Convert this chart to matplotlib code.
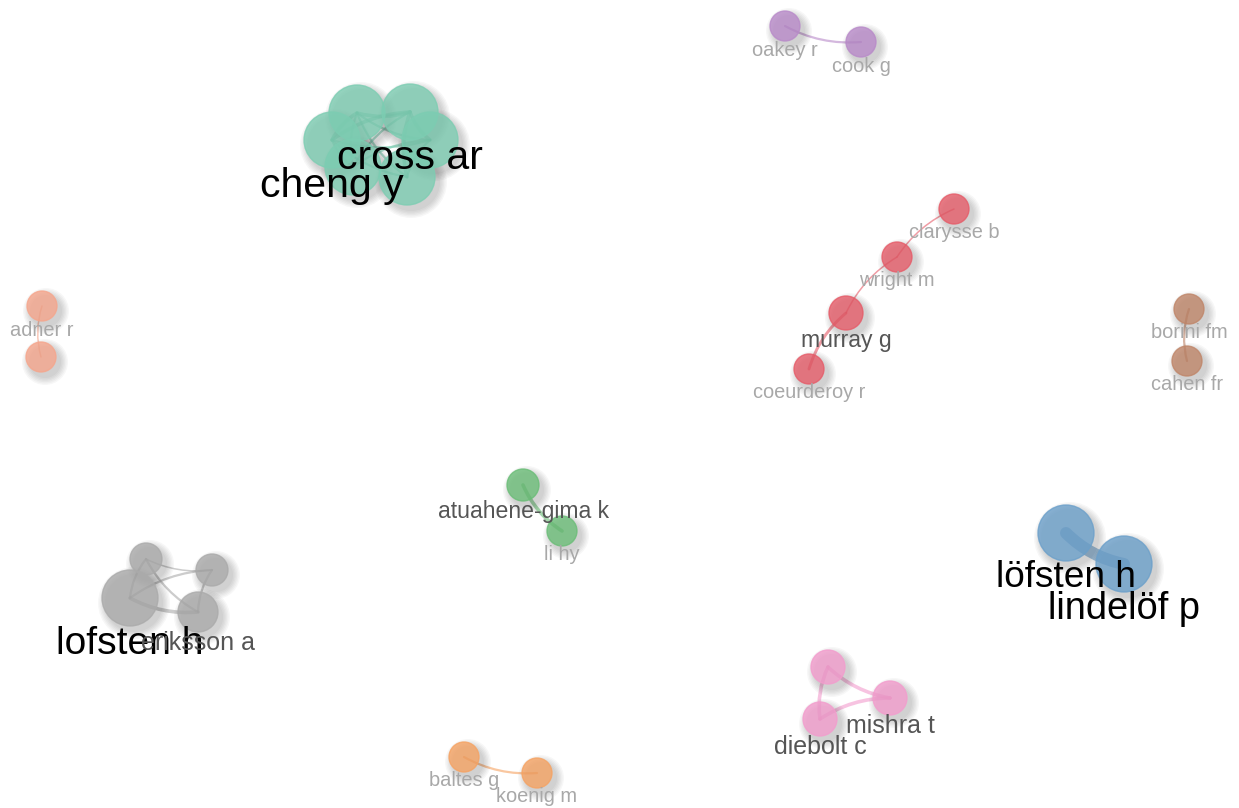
import matplotlib.pyplot as plt
from matplotlib.patches import Circle, FancyArrowPatch

# nodes of the collaboration network (layout position in px, node radius)
labels = ["", "cross ar", "cheng y", "", "", "",
          "oakey r", "cook g",
          "clarysse b", "wright m", "murray g", "coeurderoy r",
          "borini fm", "cahen fr",
          "adner r", "",
          "atuahene-gima k", "li hy",
          "löfsten h", "lindelöf p",
          "", "", "lofsten h", "eriksson a",
          "", "mishra t", "diebolt c",
          "baltes g", "koenig m"]
node_x = [357, 410, 332, 430, 353, 407,
          785, 861,
          954, 897, 846, 809,
          1189, 1187,
          42, 41,
          523, 562,
          1066, 1124,
          146, 212, 130, 198,
          828, 890, 820,
          464, 537]
node_y = [113, 112, 140, 140, 167, 177,
          26, 42,
          209, 257, 313, 369,
          309, 361,
          306, 357,
          485, 531,
          533, 564,
          559, 570, 598, 612,
          667, 698, 719,
          757, 773]
node_r = [28, 28, 28, 28, 28, 28,
          15, 15,
          15, 15, 17, 15,
          15, 15,
          15, 15,
          16, 15,
          28, 28,
          16, 16, 28, 20,
          17, 17, 17,
          15, 15]
group = ["teal"] * 6 + ["purple"] * 2 + ["red"] * 4 + ["brown"] * 2 + \
        ["salmon"] * 2 + ["green"] * 2 + ["blue"] * 2 + ["gray"] * 4 + \
        ["pink"] * 3 + ["orange"] * 2
# label size in px
label_px = [0, 41, 41, 0, 0, 0,
            20, 20,
            20, 20, 23, 20,
            20, 20,
            20, 0,
            23, 20,
            37, 38,
            0, 0, 39, 25,
            0, 25, 25,
            20, 20]

edges = [(0, 1, 2), (0, 2, 2), (0, 3, 1), (0, 4, 1), (0, 5, 1), (1, 2, 2),
         (1, 3, 2), (1, 4, 1), (1, 5, 2), (2, 3, 1), (2, 5, 1), (3, 4, 1),
         (3, 5, 1), (2, 4, 1),
         (6, 7, 1),
         (8, 9, 0.5), (9, 10, 0.5), (10, 11, 1.5),
         (12, 13, 1),
         (14, 15, 0.5),
         (16, 17, 2),
         (18, 19, 8),
         (20, 21, 0.5), (20, 22, 1), (20, 23, 1), (21, 22, 1), (21, 23, 1),
         (22, 23, 2),
         (24, 25, 2), (24, 26, 2), (25, 26, 2),
         (27, 28, 1)]

colors = {"teal": "#7ccdb2", "purple": "#b889c9", "red": "#e65a67",
          "brown": "#bf8467", "salmon": "#f6a58b", "green": "#69bd76",
          "blue": "#6a9fca", "gray": "#aaaaaa", "pink": "#f39ccd",
          "orange": "#f6a261"}

fig = plt.figure(figsize=(12.39, 8.08), dpi=100)
ax = fig.add_axes([0, 0, 1, 1])
ax.set_xlim(0, 1239)
ax.set_ylim(808, 0)
ax.axis("off")

for a, b, w in edges:
    c = colors[group[a]]
    p = FancyArrowPatch((node_x[a], node_y[a]), (node_x[b], node_y[b]),
                        arrowstyle="-", connectionstyle="arc3,rad=0.15",
                        color=c, lw=0.6 + w, alpha=0.6, zorder=1,
                        shrinkA=0, shrinkB=0)
    ax.add_patch(p)

for i in range(len(node_x)):
    r = node_r[i]
    # soft drop shadow
    for k in range(6):
        ax.add_patch(Circle((node_x[i] + 4, node_y[i] + 5), r + 1 + k * 1.4,
                            color="black", alpha=0.03, lw=0, zorder=2))
    ax.add_patch(Circle((node_x[i], node_y[i]), r, facecolor=colors[group[i]],
                        edgecolor=colors[group[i]], lw=1, alpha=0.78, zorder=3))

for i in range(len(node_x)):
    if not labels[i]:
        continue
    px = label_px[i]
    if px >= 35:
        tc = "black"
    elif px >= 23:
        tc = "#555555"
    else:
        tc = "#a8a8a8"
    ax.text(node_x[i], node_y[i] + node_r[i] + px * 0.45, labels[i],
            fontsize=px * 0.72, color=tc, ha="center", va="center",
            family=["Liberation Sans", "DejaVu Sans"], zorder=4)

fig.savefig("out.png", dpi=100)
